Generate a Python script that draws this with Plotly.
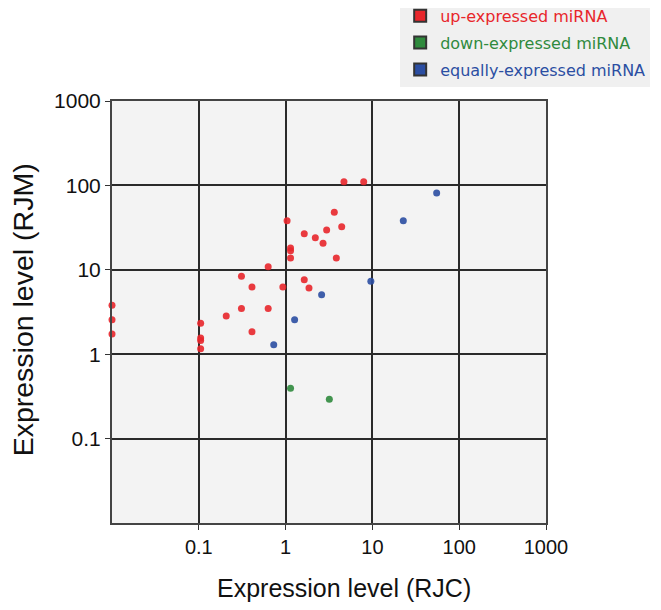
import plotly.graph_objects as go

# expression levels (RJC on x, RJM on y)
up_rjc = [1.04, 1.64, 2.2, 2.7, 2.97, 1.14, 1.14, 1.14, 0.63, 0.31,
          0.41, 0.93, 1.64, 1.86, 0.01, 0.01, 0.01, 0.31, 0.63, 0.207,
          0.105, 0.105, 0.105, 0.105, 0.41, 4.7, 7.94, 3.64, 4.43, 3.84]
up_rjm = [38.2, 26.8, 24.0, 20.6, 29.6, 18.1, 16.8, 13.8, 10.9, 8.4,
          6.25, 6.25, 7.6, 6.1, 3.8, 2.56, 1.73, 3.47, 3.47, 2.84,
          2.32, 1.56, 1.45, 1.16, 1.85, 110.6, 110.6, 48.0, 32.4, 13.8]

down_rjc = [1.14, 3.19]
down_rjm = [0.394, 0.292]

equal_rjc = [55.0, 22.7, 9.6, 2.6, 1.27, 0.73]
equal_rjm = [81.0, 38.2, 7.3, 5.07, 2.56, 1.29]

tick_vals = [0.1, 1, 10, 100, 1000]
tick_text = ["0.1", "1", "10", "100", "1000"]

groups = [
    ("up-expressed miRNA", up_rjc, up_rjm, "#e8262b"),
    ("down-expressed miRNA", down_rjc, down_rjm, "#2f8a3d"),
    ("equally-expressed miRNA", equal_rjc, equal_rjm, "#2b4ea2"),
]

fig = go.Figure()
for name, xs, ys, col in groups:
    fig.add_trace(go.Scatter(x=xs, y=ys, mode="markers", showlegend=False,
                             marker=dict(color=col, size=7, opacity=0.9),
                             cliponaxis=False))
# legend-only entries (square swatches, coloured labels)
for name, xs, ys, col in groups:
    fig.add_trace(go.Scatter(x=[None], y=[None], mode="markers", legendgroup=name,
                             name="<span style='color:%s'>%s</span>" % (col, name),
                             marker=dict(color=col, size=9, symbol="square",
                                         line=dict(color="#333", width=1))))

axis_style = dict(type="log", range=[-2, 3], tickvals=tick_vals, ticktext=tick_text,
                  showgrid=True, gridcolor="#2a2a2a", gridwidth=1.5,
                  showline=True, linecolor="#444", linewidth=2, mirror=True,
                  ticks="outside", ticklen=5, tickcolor="#333", zeroline=False)

fig.update_xaxes(**axis_style, tickfont=dict(family="Liberation Sans", size=20, color="#111"))
fig.update_yaxes(**axis_style, tickfont=dict(family="Liberation Sans", size=21, color="#111"))

fig.update_layout(
    width=661, height=610,
    margin=dict(l=104, r=123, t=93, b=95, autoexpand=False),
    plot_bgcolor="#f3f3f3", paper_bgcolor="white",
    legend=dict(x=0.664, y=1.242, xanchor="left", yanchor="top",
                bgcolor="#f0f0f0", tracegroupgap=3,
                font=dict(family="DejaVu Sans", size=16),
                itemsizing="constant"),
    annotations=[
        dict(text="Expression level (RJC)", x=0.535, y=-0.155, xref="paper", yref="paper",
             showarrow=False, xanchor="center", yanchor="middle",
             font=dict(family="Liberation Sans", size=25, color="#111")),
        dict(text="Expression level (RJM)", x=-0.203, y=0.506, xref="paper", yref="paper",
             showarrow=False, xanchor="center", yanchor="middle", textangle=-90,
             borderpad=0, font=dict(family="Liberation Sans", size=28.5, color="#111")),
    ],
)

fig.write_html("out.html")
